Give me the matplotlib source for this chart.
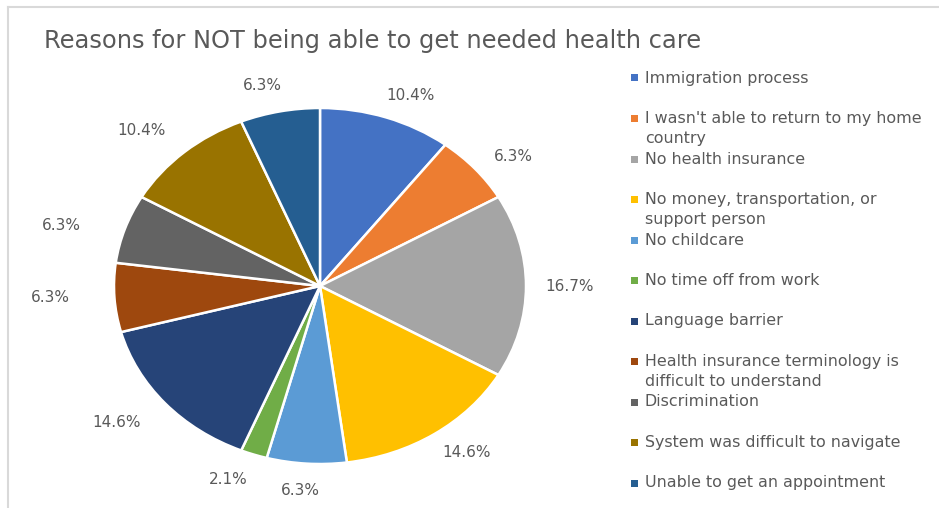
import numpy as np
import matplotlib
matplotlib.use("Agg")
import matplotlib.pyplot as plt
from matplotlib.patches import Rectangle
from matplotlib.lines import Line2D

plt.rcParams['font.family'] = ['DejaVu Sans']

title = "Reasons for NOT being able to get needed health care"
categories = [
    "Immigration process",
    "I wasn't able to return to my home\ncountry",
    "No health insurance",
    "No money, transportation, or\nsupport person",
    "No childcare",
    "No time off from work",
    "Language barrier",
    "Health insurance terminology is\ndifficult to understand",
    "Discrimination",
    "System was difficult to navigate",
    "Unable to get an appointment",
]
counts = [5, 3, 8, 7, 3, 1, 7, 3, 3, 5, 3]
colors = ["#4472C4", "#ED7D31", "#A5A5A5", "#FFC000", "#5B9BD5", "#70AD47",
          "#264478", "#9E480E", "#636363", "#997300", "#255E91"]

W, H = 939, 508
fig = plt.figure(figsize=(W / 100, H / 100), dpi=100)
fig.patch.set_facecolor("white")

# border (light gray)
fig.add_artist(Line2D([8 / W, 8 / W], [1 - 7 / H, 0], color="#D9D9D9", lw=1.5))
fig.add_artist(Line2D([8 / W, 1], [1 - 7 / H, 1 - 7 / H], color="#D9D9D9", lw=1.5))

fig.text(44 / W, 1 - 41 / H, title, fontsize=17.4, color="#595959", ha="left", va="center")

cx, cy, rx, ry = 320, 286, 206, 178
ax = fig.add_axes([(cx - rx) / W, 1 - (cy + ry) / H, 2 * rx / W, 2 * ry / H])
wedges, _ = ax.pie(counts, colors=colors, startangle=90, counterclock=False,
                   wedgeprops=dict(edgecolor="white", linewidth=1.8))
ax.set_aspect("auto")
ax.set_xlim(-1, 1)
ax.set_ylim(-1, 1)
ax.axis("off")

total = sum(counts)
pcts = [np.floor(c / total * 1000 + 0.5) / 10 for c in counts]
for w, p in zip(wedges, pcts):
    mid = (w.theta1 + w.theta2) / 2
    c0, s0 = np.cos(np.deg2rad(mid)), np.sin(np.deg2rad(mid))
    # nudge label angle slightly away from the vertical axis
    k = min(1.0, abs(c0) / 0.25) * min(1.0, abs(s0) / 0.25)
    phi = np.deg2rad(mid - 3.5 * k * np.sign(c0) * np.sign(s0))
    c, s = np.cos(phi), np.sin(phi)
    r = 1.15 + 0.06 * c * c + (0.1 * c * c if c < 0 else 0.0)
    px = cx + rx * r * c
    py = cy - ry * r * s
    fig.text(px / W, 1 - py / H, f"{p:.1f}%", ha="center", va="center",
             fontsize=11, color="#595959")

# legend
for i, (lab, col) in enumerate(zip(categories, colors)):
    y = 78 + 40.5 * i
    fig.add_artist(Rectangle((631 / W, 1 - (y + 3.5) / H), 7 / W, 7 / H,
                             facecolor=col, edgecolor="none", transform=fig.transFigure))
    fig.text(645 / W, 1 - (y - 7.5) / H, lab, fontsize=11.4, color="#595959",
             ha="left", va="top", linespacing=1.4)

fig.savefig("out.png", dpi=100)
